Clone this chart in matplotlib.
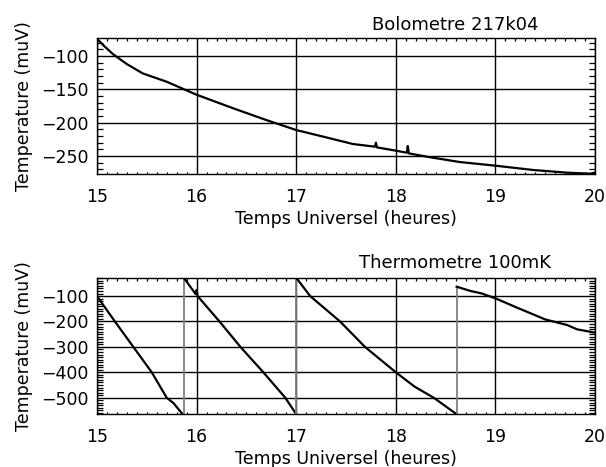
import numpy as np
import matplotlib
matplotlib.use('Agg')
from matplotlib import pyplot as plt
from matplotlib.ticker import MultipleLocator

# Bolometre 217k04 : temps (heures TU) / tension (muV)
bolo_hours = [15.0, 15.08, 15.16, 15.3, 15.46, 15.7, 16.0, 16.37, 16.7, 17.0,
              17.3, 17.57, 17.79, 17.8, 17.81, 18.0, 18.11, 18.12, 18.13, 18.31,
              18.64, 19.0, 19.38, 19.72, 19.95, 20.0]
bolo_values = [-74, -86, -97, -112, -126, -138.5, -158, -178.5, -196, -211,
               -222, -232, -236, -230, -237, -242, -245, -235, -246, -251,
               -259, -264.5, -271, -275, -276.5, -275]

# Thermometre 100mK : une liste par rampe, entre deux remises a zero
thermo_hours = [
    [15.0, 15.18, 15.365, 15.55, 15.70, 15.77, 15.87],
    [15.87, 15.99, 16.0, 16.01, 16.23, 16.44, 16.67, 16.89, 17.0],
    [17.0, 17.14, 17.44, 17.69, 18.0, 18.19, 18.38, 18.61],
    [18.61, 18.75, 18.86, 19.0, 19.21, 19.5, 19.72, 19.82, 20.0],
]
thermo_values = [
    [-100, -200, -300, -400, -500, -522, -570],
    [-27, -92, -76, -100, -200, -300, -400, -500, -565],
    [-28, -100, -200, -300, -400, -457, -500, -565],
    [-63, -80, -89.5, -109, -144.5, -192, -214, -231, -244],
]

hour_ticks = [15, 16, 17, 18, 19, 20]
bolo_ticks = [-250, -200, -150, -100]
thermo_ticks = [-500, -400, -300, -200, -100]

plt.rcParams['font.family'] = 'DejaVu Sans'
plt.rcParams['font.size'] = 12.5

fig = plt.figure(figsize=(6.06, 4.67), dpi=100)
ax1 = fig.add_axes([0.160, 0.6274, 0.822, 0.291])
ax2 = fig.add_axes([0.160, 0.1141, 0.822, 0.290])


def style_axes(ax, yticks, ylim):
    ax.set_xlim(15, 20)
    ax.set_ylim(*ylim)
    ax.set_xticks(hour_ticks)
    ax.set_yticks(yticks)
    ax.xaxis.set_minor_locator(MultipleLocator(0.1))
    ax.yaxis.set_minor_locator(MultipleLocator(10))
    ax.grid(True, which='major', color='black', linewidth=1.0)
    ax.tick_params(which='major', length=0, pad=6)
    ax.tick_params(axis='x', which='major', pad=10)
    ax.tick_params(which='minor', direction='in', top=True, right=True,
                   color='black', width=0.9)
    ax.tick_params(axis='x', which='minor', length=1.8)
    ax.tick_params(axis='y', which='minor', length=4)
    for spine in ax.spines.values():
        spine.set_linewidth(1.0)
    ax.set_xlabel('Temps Universel (heures)', labelpad=3)
    ax.set_ylabel('Temperature (muV)', labelpad=6)


style_axes(ax1, bolo_ticks, (-277, -73))
ax1.plot(bolo_hours, bolo_values, color='black', linewidth=1.6)

style_axes(ax2, thermo_ticks, (-563, -30))
for i in range(len(thermo_hours)):
    ax2.plot(thermo_hours[i], thermo_values[i], color='black', linewidth=1.6)
    # saut de la remise a zero vers la rampe suivante
    if i + 1 < len(thermo_hours):
        ax2.plot([thermo_hours[i][-1], thermo_hours[i + 1][0]],
                 [thermo_values[i][-1], thermo_values[i + 1][0]],
                 color='#808080', linewidth=1.3)

fig.text(0.751, 0.946, 'Bolometre 217k04', ha='center', va='center', fontsize=13)
fig.text(0.751, 0.436, 'Thermometre 100mK', ha='center', va='center', fontsize=13)

fig.savefig('out.png', dpi=100)
